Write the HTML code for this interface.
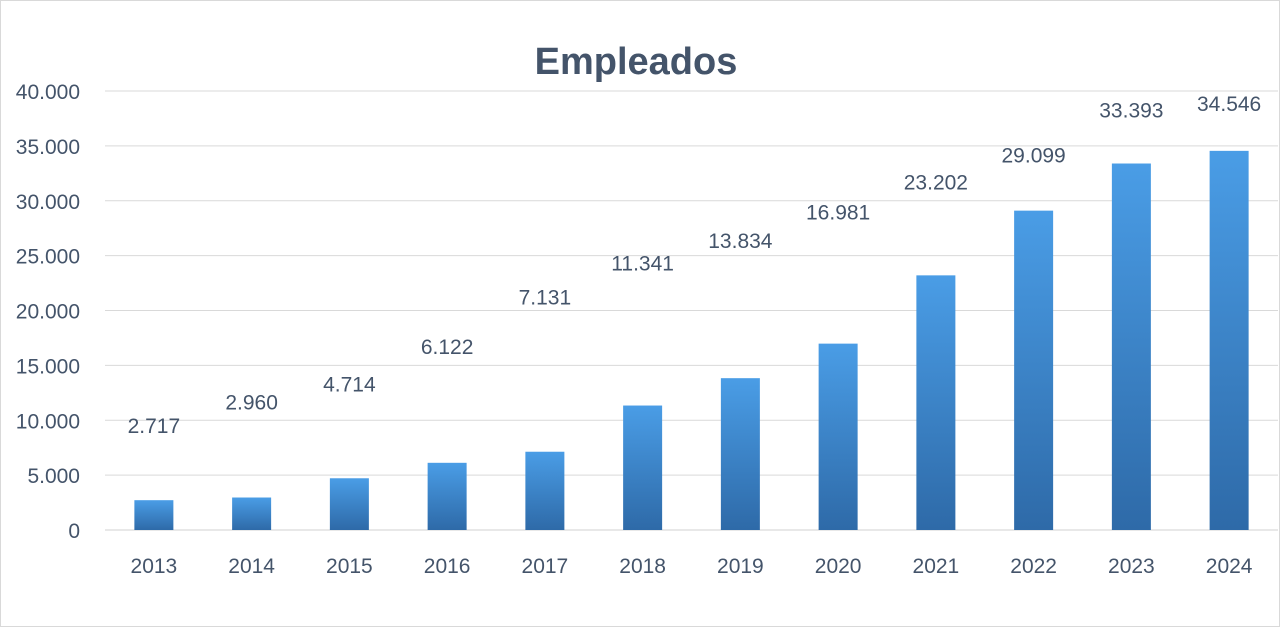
<!DOCTYPE html>
<html><head><meta charset="utf-8"><style>
html,body{margin:0;padding:0;background:#fff}
svg{display:block;font-family:"Liberation Sans",Arial,sans-serif}
</style></head><body>
<svg id="chart" width="1280" height="627" viewBox="0 0 1280 627">
<defs><linearGradient id="g" x1="0" y1="0" x2="0" y2="1"><stop offset="0" stop-color="#4a9de6"/><stop offset="1" stop-color="#2e6aa8"/></linearGradient></defs>
<rect x="0.5" y="0.5" width="1279" height="626" fill="#fff" stroke="#d9d9d9"/>
<text x="636" y="74" text-anchor="middle" font-size="38" font-weight="bold" fill="#44546a">Empleados</text>
<g id="grid"></g><g id="bars"></g><g id="labels"></g><g id="xlabels"></g><g id="ylabels"></g>
</svg>
<script>
const categories=["2013","2014","2015","2016","2017","2018","2019","2020","2021","2022","2023","2024"];
const values=[2717,2960,4714,6122,7131,11341,13834,16981,23202,29099,33393,34546];
const valueLabels=["2.717","2.960","4.714","6.122","7.131","11.341","13.834","16.981","23.202","29.099","33.393","34.546"];
const yTicks=[0,5000,10000,15000,20000,25000,30000,35000,40000];
const yTickLabels=["0","5.000","10.000","15.000","20.000","25.000","30.000","35.000","40.000"];
const labelOffsets=[75,96,95,117,155,143,138,132,94,56,54,48];
const NS="http://www.w3.org/2000/svg";
const x0=105,x1=1278,yBase=530,yTop=91,maxV=40000,barW=39;
const step=(x1-x0)/categories.length;
const y=v=>yBase-(v/maxV)*(yBase-yTop);
const xc=i=>x0+step*(i+0.5);
function mk(tag,attrs,parent,txt){const e=document.createElementNS(NS,tag);for(const k in attrs)e.setAttribute(k,attrs[k]);if(txt!=null)e.textContent=txt;document.getElementById(parent).appendChild(e);return e;}
yTicks.forEach((t,i)=>{
  const l=mk("line",{x1:x0,x2:x1,y1:y(t),y2:y(t),stroke:i===0?"#d0d0d0":"#d9d9d9","stroke-width":1},"grid");
  
  
  const tx=mk("text",{x:80,y:y(t)+8,"text-anchor":"end","font-size":21,fill:"#44546a"},"ylabels",yTickLabels[i]);
  
  
});
categories.forEach((c,i)=>{
  const b=mk("rect",{x:xc(i)-barW/2,y:y(values[i]),width:barW,height:yBase-y(values[i]),fill:"url(#g)"},"bars");
  
  
  const lb=mk("text",{x:xc(i),y:y(values[i])-labelOffsets[i]+8,"text-anchor":"middle","font-size":21,fill:"#44546a"},"labels",valueLabels[i]);
  
  
  const xl=mk("text",{x:xc(i),y:573,"text-anchor":"middle","font-size":21,fill:"#44546a"},"xlabels",c);
  
  
});
</script>
</body></html>
